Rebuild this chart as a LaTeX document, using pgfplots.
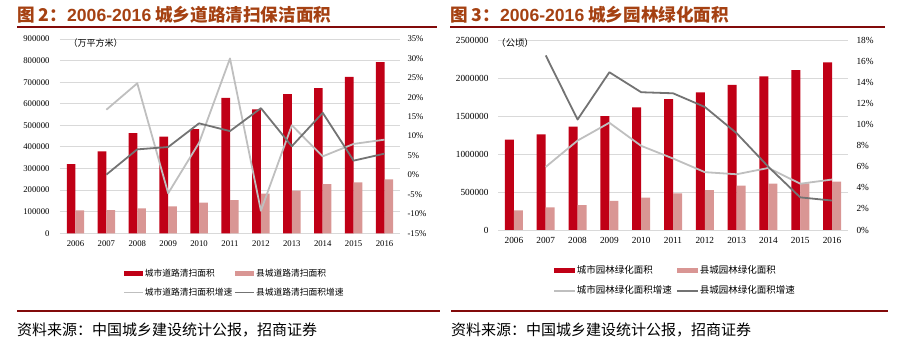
\documentclass[border=0pt]{standalone}
\usepackage{pgfplots}
\pgfplotsset{compat=1.18}
\usepackage{pgfplotstable}
\usepackage{fontspec}
\setmainfont{Liberation Serif}
\newfontfamily\cjk{Noto Sans CJK SC}
\newfontfamily\arialf{Liberation Sans}
\definecolor{barred}{RGB}{192,0,22}
\definecolor{barpink}{RGB}{217,150,148}
\definecolor{lgray}{RGB}{191,191,191}
\definecolor{dgray}{RGB}{115,115,115}
\definecolor{titlec}{RGB}{165,65,18}
\definecolor{rulec}{RGB}{130,10,10}
\definecolor{gridc}{RGB}{217,217,217}

\pgfplotstableread{
x city county
0 321000 106000
1 380000 107000
2 464000 116000
3 448000 125000
4 483000 142000
5 627000 154000
6 574000 184000
7 645000 198000
8 673000 228000
9 725000 236000
10 793000 250000
}\roadbars
\pgfplotstableread{
x cg kg
1 16.8 0.1
2 23.6 6.6
3 -4.7 7.2
4 8.3 13.3
5 30.0 11.3
6 -9.2 17.2
7 12.8 7.4
8 4.8 16.0
9 8.0 3.7
10 9.1 5.5
}\roadgrowth
\pgfplotstableread{
x city county
0 1192000 260000
1 1263000 299000
2 1364000 330000
3 1505000 383000
4 1620000 427000
5 1730000 484000
6 1818000 528000
7 1915000 585000
8 2029000 612000
9 2113000 615000
10 2214000 638000
}\greenbars
\pgfplotstableread{
x cg kg
1 6.0 16.6
2 8.5 10.5
3 10.2 15.0
4 8.0 13.1
5 6.8 13.0
6 5.5 11.7
7 5.3 9.2
8 5.9 6.0
9 4.4 3.1
10 4.8 2.8
}\greengrowth

\pgfplotsset{
  common/.style={scale only axis, xmin=-0.5, xmax=10.5,
    axis line style={draw=none}, tick style={draw=none}, major tick length=0pt,
    clip=false, /pgf/number format/assume math mode=true},
  barimg/.style={legend image code/.code={\fill[##1] (0pt,-2.5pt) rectangle (19pt,2.5pt);}},
  lineimg/.style={legend image code/.code={\draw[##1] (0pt,0pt) -- (19pt,0pt);}},
  barimgw/.style={legend image code/.code={\fill[##1] (0pt,-2.5pt) rectangle (21pt,2.5pt);}},
  lineimgw/.style={legend image code/.code={\draw[##1] (0pt,0pt) -- (21pt,0pt);}},
}

\begin{document}
\begin{tikzpicture}
\path[use as bounding box] (0pt,0pt) rectangle (903pt,351pt);

% ---------------- Left chart ----------------
\begin{axis}[common, at={(60pt,117.7pt)}, anchor=south west, width=340pt, height=194.3pt,
  ymin=0, ymax=900000, ytick={0,100000,...,900000}, scaled y ticks=false,
  ticklabel style={font=\fontsize{8.7}{10}\selectfont},
  yticklabel style={/pgf/number format/fixed, /pgf/number format/1000 sep={}, xshift=-7pt},
  xticklabel style={yshift=-4pt},
  ymajorgrids, grid style={gridc, line width=0.9pt},
  xtick={0,...,10}, xticklabels={2006,2007,2008,2009,2010,2011,2012,2013,2014,2015,2016},
  ybar=0pt, bar width=8.7pt]
\addplot[fill=barred, draw=none] table[x=x,y=city]{\roadbars};
\addplot[fill=barpink, draw=none] table[x=x,y=county]{\roadbars};
\node[anchor=west, inner sep=0pt, font=\cjk\fontsize{9}{10}\selectfont] at (rel axis cs:0.025,0.979) {（万平方米）};
\end{axis}
\begin{axis}[common, at={(60pt,117.7pt)}, anchor=south west, width=340pt, height=194.3pt,
  ymin=-15, ymax=35, ytick={-15,-10,...,35},
  yticklabels={-15\%,-10\%,-5\%,0\%,5\%,10\%,15\%,20\%,25\%,30\%,35\%},
  yticklabel pos=right, xtick=\empty,
  ticklabel style={font=\fontsize{8.7}{10}\selectfont},
  yticklabel style={xshift=4pt},
  legend columns=2, legend cell align=left,
  legend style={at={(0.185,-0.183)}, anchor=north west, draw=none, fill=none, inner sep=0pt,
    row sep=10.25pt, font=\cjk\fontsize{8.75}{10}\selectfont,
    nodes={inner ysep=0pt, inner xsep=1pt, text height=7.5pt, text depth=1.25pt},
    /tikz/every even column/.append style={column sep=1pt}}]
\addlegendimage{barimg, fill=barred, draw=none}
\addlegendentry{城市道路清扫面积}
\addlegendimage{barimg, fill=barpink, draw=none}
\addlegendentry{县城道路清扫面积}
\addplot[lgray, line width=1.8pt, line join=round, lineimg, mark=none] table[x=x,y=cg]{\roadgrowth};
\addlegendentry{城市道路清扫面积增速}
\addplot[dgray, line width=1.8pt, line join=round, lineimg, mark=none] table[x=x,y=kg]{\roadgrowth};
\addlegendentry{县城道路清扫面积增速}
\end{axis}

% ---------------- Right chart ----------------
\begin{axis}[common, at={(498pt,121pt)}, anchor=south west, width=350pt, height=189.3pt,
  ymin=0, ymax=2500000, ytick={0,500000,...,2500000}, scaled y ticks=false,
  ticklabel style={font=\fontsize{9.3}{11}\selectfont},
  yticklabel style={/pgf/number format/fixed, /pgf/number format/1000 sep={}, xshift=-6pt},
  xticklabel style={yshift=-4pt},
  ymajorgrids, grid style={gridc, line width=0.9pt},
  xtick={0,...,10}, xticklabels={2006,2007,2008,2009,2010,2011,2012,2013,2014,2015,2016},
  ybar=0pt, bar width=9pt]
\addplot[fill=barred, draw=none] table[x=x,y=city]{\greenbars};
\addplot[fill=barpink, draw=none] table[x=x,y=county]{\greenbars};
\node[anchor=west, inner sep=0pt, font=\cjk\fontsize{9.3}{10}\selectfont] at (rel axis cs:-0.005,0.99) {（公顷）};
\end{axis}
\begin{axis}[common, at={(498pt,121pt)}, anchor=south west, width=350pt, height=189.3pt,
  ymin=0, ymax=18, ytick={0,2,...,18},
  yticklabels={0\%,2\%,4\%,6\%,8\%,10\%,12\%,14\%,16\%,18\%},
  yticklabel pos=right, xtick=\empty,
  ticklabel style={font=\fontsize{9.3}{11}\selectfont},
  yticklabel style={xshift=5pt},
  legend columns=2, legend cell align=left,
  legend style={at={(0.157,-0.1875)}, anchor=north west, draw=none, fill=none, inner sep=0pt,
    row sep=10pt, font=\cjk\fontsize{9.5}{11}\selectfont,
    nodes={inner ysep=0pt, inner xsep=1pt, text height=8.3pt, text depth=1.7pt},
    /tikz/every even column/.append style={column sep=3pt}}]
\addlegendimage{barimgw, fill=barred, draw=none}
\addlegendentry{城市园林绿化面积}
\addlegendimage{barimgw, fill=barpink, draw=none}
\addlegendentry{县城园林绿化面积}
\addplot[lgray, line width=1.8pt, line join=round, mark=none, lineimgw] table[x=x,y=cg]{\greengrowth};
\addlegendentry{城市园林绿化面积增速}
\addplot[dgray, line width=1.8pt, line join=round, mark=none, lineimgw] table[x=x,y=kg]{\greengrowth};
\addlegendentry{县城园林绿化面积增速}
\end{axis}

% ---------------- Titles, rules, sources ----------------
\node[anchor=west, inner sep=0pt, text=titlec, font=\cjk\bfseries\fontsize{17.6}{20}\selectfont] at (17pt,336pt) {图 2：{\arialf 2006-2016} 城乡道路清扫保洁面积};
\node[anchor=west, inner sep=0pt, text=titlec, font=\cjk\bfseries\fontsize{17.6}{20}\selectfont] at (450pt,336pt) {图 3：{\arialf 2006-2016} 城乡园林绿化面积};
\draw[rulec, line width=1.5pt] (17pt,324pt) -- (437pt,324pt);
\draw[rulec, line width=1.5pt] (450pt,324pt) -- (885pt,324pt);
\draw[rulec, line width=1.5pt] (17pt,40pt) -- (440pt,40pt);
\draw[rulec, line width=1.5pt] (451pt,40pt) -- (888pt,40pt);
\node[anchor=west, inner sep=0pt, font=\cjk\fontsize{15}{16}\selectfont] at (17pt,21pt) {资料来源：中国城乡建设统计公报，招商证券};
\node[anchor=west, inner sep=0pt, font=\cjk\fontsize{15}{16}\selectfont] at (451pt,21pt) {资料来源：中国城乡建设统计公报，招商证券};
\end{tikzpicture}
\end{document}
